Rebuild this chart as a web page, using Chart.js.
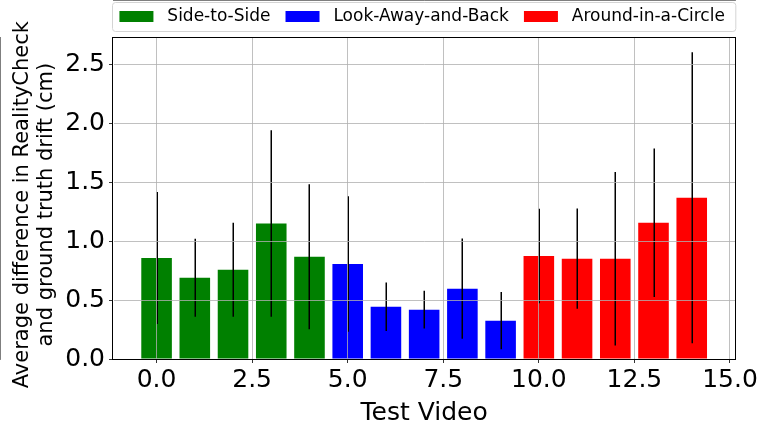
<!DOCTYPE html>
<html>
<head>
<meta charset="utf-8">
<script src="https://cdn.jsdelivr.net/npm/chart.js@4.4.1/dist/chart.umd.min.js"></script>
<style>
  body { margin: 0; background: #fff; }
  #wrap { width: 760px; height: 428px; }
</style>
</head>
<body>
<div id="wrap"><canvas id="chart" width="760" height="428"></canvas></div>
<script>
// Test video index per group
const sideVideos = [0, 1, 2, 3, 4];
const lookVideos = [5, 6, 7, 8, 9];
const circleVideos = [10, 11, 12, 13, 14];

// Mean difference (cm)
const sideMeans = [0.856, 0.689, 0.757, 1.149, 0.867];
const lookMeans = [0.805, 0.443, 0.418, 0.596, 0.325];
const circleMeans = [0.873, 0.850, 0.850, 1.155, 1.367];

// Standard deviation (half length of the error bars)
const sideStd = [0.560, 0.330, 0.398, 0.790, 0.615];
const lookStd = [0.575, 0.205, 0.160, 0.425, 0.242];
const circleStd = [0.400, 0.425, 0.735, 0.630, 1.233];

const groupLabels = ['Side-to-Side', 'Look-Away-and-Back', 'Around-in-a-Circle'];
const xTicks = [0, 2.5, 5, 7.5, 10, 12.5, 15];
const yTicks = [0, 0.5, 1.0, 1.5, 2.0, 2.5];

const FONT = "'DejaVu Sans', sans-serif";

function points(xs, ys, sds) {
    return xs.map((x, i) => ({ x: x, y: ys[i], sd: sds[i] }));
}

// black error bars, no caps
const errorBars = {
    id: 'errorBars',
    afterDatasetsDraw(chart) {
        const ctx = chart.ctx;
        const xs = chart.scales.x, ys = chart.scales.y;
        ctx.save();
        ctx.strokeStyle = '#000';
        ctx.lineWidth = 1.5;
        chart.data.datasets.forEach(ds => {
            ds.data.forEach(p => {
                const px = Math.round(xs.getPixelForValue(p.x)) + 0.25;
                ctx.beginPath();
                ctx.moveTo(px, ys.getPixelForValue(p.y + p.sd));
                ctx.lineTo(px, ys.getPixelForValue(Math.max(p.y - p.sd, 0)));
                ctx.stroke();
            });
        });
        ctx.restore();
    }
};

// legend centred over the plot, frame round it, top/right spines
const frames = {
    id: 'frames',
    afterLayout(chart) {
        const lg = chart.legend;
        const a = chart.chartArea;
        lg.left = a.left - 24;
        lg.right = a.right + 20;
        lg.width = lg.right - lg.left;
        lg.top = -7;
    },
    beforeDraw(chart) {
        const ctx = chart.ctx;
        const a = chart.chartArea;
        ctx.save();
        ctx.fillStyle = '#fff';
        ctx.strokeStyle = '#d4d4d4';
        ctx.lineWidth = 1;
        ctx.beginPath();
        ctx.roundRect(a.left - 0.5, 2.5, a.right - a.left + 1, 29, 3);
        ctx.fill();
        ctx.stroke();
        ctx.restore();
    },
    afterDraw(chart) {
        const ctx = chart.ctx;
        const a = chart.chartArea;
        ctx.save();
        ctx.strokeStyle = '#000';
        ctx.lineWidth = 1;
        ctx.strokeRect(Math.round(a.left) - 0.5, Math.round(a.top) + 0.5,
            Math.round(a.right - a.left) + 1, Math.round(a.bottom - a.top));
        ctx.restore();
    }
};

new Chart(document.getElementById('chart'), {
    type: 'bar',
    data: {
        datasets: [
            { label: groupLabels[0], data: points(sideVideos, sideMeans, sideStd), backgroundColor: '#008000' },
            { label: groupLabels[1], data: points(lookVideos, lookMeans, lookStd), backgroundColor: '#0000ff' },
            { label: groupLabels[2], data: points(circleVideos, circleMeans, circleStd), backgroundColor: '#ff0000' },
        ],
    },
    options: {
        responsive: false,
        animation: false,
        devicePixelRatio: 1,
        grouped: false,
        barPercentage: 0.8,
        categoryPercentage: 1.0,
        layout: { padding: { left: 0, right: 24, top: 0, bottom: 0 } },
        plugins: {
            tooltip: { enabled: false },
            legend: {
                position: 'top',
                fullSize: true,
                maxHeight: 37,
                labels: {
                    font: { family: FONT, size: 17 },
                    color: '#000',
                    boxWidth: 34,
                    boxHeight: 11,
                    padding: 15,
                    generateLabels(chart) {
                        return chart.data.datasets.map((ds, i) => ({
                            text: ' ' + ds.label,
                            fillStyle: ds.backgroundColor,
                            strokeStyle: ds.backgroundColor,
                            lineWidth: 0,
                            fontColor: '#000',
                            datasetIndex: i,
                        }));
                    },
                },
            },
        },
        scales: {
            x: {
                type: 'linear',
                offset: false,
                min: -1.14,
                max: 15.14,
                afterFit(scale) { scale.height = 69; },
                afterBuildTicks(scale) { scale.ticks = xTicks.map(v => ({ value: v })); },
                ticks: {
                    font: { family: FONT, size: 25 },
                    color: '#000',
                    padding: 2,
                    maxRotation: 0,
                    callback: v => v.toFixed(1),
                },
                grid: { offset: false, color: '#b0b0b0', lineWidth: 0.8, z: 1, tickLength: 4, tickColor: '#000' },
                border: { color: '#000', width: 1 },
                title: {
                    display: true,
                    text: 'Test Video',
                    font: { family: FONT, size: 25 },
                    color: '#000',
                    padding: { top: 0, bottom: 0 },
                },
            },
            y: {
                min: 0,
                max: 2.73,
                afterFit(scale) { scale.width = 113; },
                afterBuildTicks(scale) { scale.ticks = yTicks.map(v => ({ value: v })); },
                ticks: {
                    font: { family: FONT, size: 25 },
                    color: '#000',
                    padding: 4,
                    callback: v => v.toFixed(1),
                },
                grid: { color: '#b0b0b0', lineWidth: 0.8, z: 1, tickLength: 4, tickColor: '#000' },
                border: { color: '#000', width: 1 },
                title: {
                    display: true,
                    text: ['Average difference in RealityCheck  ', 'and ground truth drift (cm)  '],
                    font: { family: FONT, size: 21, lineHeight: 1.15 },
                    color: '#000',
                    padding: { top: 10, bottom: 0 },
                },
            },
        },
    },
    plugins: [errorBars, frames],
});
</script>
</body>
</html>
